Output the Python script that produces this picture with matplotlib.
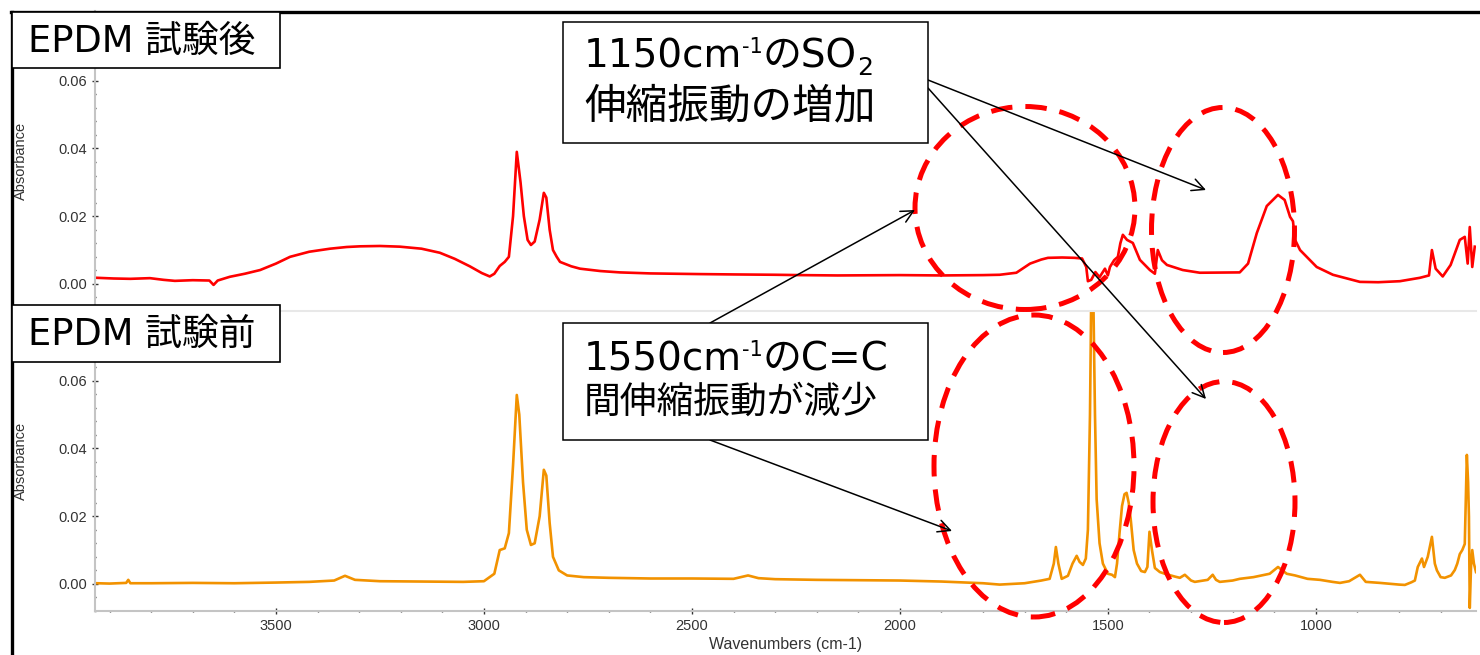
import matplotlib
matplotlib.use("Agg")
import matplotlib.pyplot as plt
from matplotlib.patches import Ellipse, Rectangle, FancyArrowPatch
from matplotlib.lines import Line2D
from matplotlib.ticker import MultipleLocator, FormatStrFormatter

# spectrum after test (red), wavenumber / absorbance
wn_after = [3930, 3890, 3850, 3803, 3770, 3743, 3700, 3660, 3650, 3640, 3611, 3575,
            3538, 3500, 3466, 3420, 3370, 3330, 3298, 3250, 3202, 3150, 3106, 3070,
            3034, 3005, 2986, 2975, 2962, 2950, 2940, 2930, 2921, 2912, 2904, 2895,
            2887, 2878, 2866, 2856, 2850, 2842, 2834, 2825, 2817, 2790, 2769, 2720,
            2673, 2600, 2481, 2400, 2300, 2240, 2150, 2000, 1900, 1800, 1760, 1720,
            1687, 1660, 1644, 1610, 1580, 1562, 1552, 1548, 1540, 1530, 1520, 1507,
            1500, 1495, 1485, 1476, 1470, 1464, 1454, 1440, 1423, 1399, 1387, 1380,
            1370, 1358, 1320, 1279, 1183, 1163, 1142, 1118, 1091, 1075, 1062, 1055,
            1050, 1038, 998, 959, 894, 850, 798, 750, 728, 721, 712, 695, 676, 654,
            642, 635, 630, 624, 618]
abs_after = [0.0018, 0.0016, 0.0015, 0.0017, 0.0012, 0.0009, 0.0011, 0.0010, -0.0003, 0.0010, 0.0021, 0.0030,
             0.0041, 0.0060, 0.0080, 0.0095, 0.0104, 0.0109, 0.0111, 0.0112, 0.0110, 0.0104, 0.0092, 0.0074,
             0.0052, 0.0032, 0.0022, 0.0030, 0.0053, 0.0065, 0.0080, 0.0200, 0.0390, 0.0300, 0.0200, 0.0130,
             0.0115, 0.0125, 0.0190, 0.0269, 0.0255, 0.0160, 0.0100, 0.0080, 0.0065, 0.0052, 0.0045, 0.0038,
             0.0034, 0.0031, 0.0029, 0.0028, 0.0027, 0.0026, 0.0025, 0.0026, 0.0025, 0.0026, 0.0027, 0.0033,
             0.0060, 0.0072, 0.0077, 0.0078, 0.0077, 0.0075, 0.0050, 0.0008, 0.0012, 0.0035, 0.0020, 0.0045,
             0.0025, 0.0050, 0.0070, 0.0080, 0.0120, 0.0145, 0.0130, 0.0121, 0.0071, 0.0041, 0.0030, 0.0100,
             0.0070, 0.0056, 0.0041, 0.0033, 0.0034, 0.0060, 0.0150, 0.0230, 0.0263, 0.0248, 0.0198, 0.0185,
             0.0130, 0.0100, 0.0050, 0.0027, 0.0006, 0.0005, 0.0008, 0.0018, 0.0025, 0.0100, 0.0045, 0.0022, 0.0056, 0.0130,
             0.0139, 0.0060, 0.0168, 0.0050, 0.0110]

# spectrum before test (orange)
wn_before = [3930, 3900, 3860, 3855, 3850, 3800, 3700, 3600, 3500, 3420, 3360, 3334,
             3310, 3250, 3150, 3050, 3000, 2975, 2962, 2950, 2940, 2930, 2921, 2915,
             2906, 2897, 2887, 2878, 2866, 2856, 2850, 2842, 2834, 2820, 2800, 2760,
             2700, 2600, 2500, 2400, 2365, 2340, 2300, 2200, 2100, 2000, 1900, 1800,
             1760, 1700, 1660, 1640, 1630, 1625, 1619, 1611, 1596, 1585, 1575, 1568,
             1560, 1553, 1548, 1543, 1540, 1535, 1531, 1527, 1520, 1512, 1500, 1490,
             1483, 1478, 1472, 1466, 1460, 1455, 1450, 1445, 1438, 1430, 1420, 1411,
             1405, 1400, 1394, 1387, 1375, 1363, 1340, 1327, 1315, 1300, 1291, 1260,
             1248, 1240, 1231, 1200, 1183, 1150, 1111, 1091, 1070, 1050, 1020, 990,
             960, 942, 920, 894, 880, 846, 800, 786, 770, 762, 755, 745, 740, 731,
             721, 714, 709, 700, 690, 675, 666, 660, 654, 648, 642, 637, 634, 632,
             630, 627, 624, 620, 615]
abs_before = [0.0002, 0.0001, 0.0003, 0.0012, 0.0002, 0.0002, 0.0003, 0.0002, 0.0004, 0.0006, 0.0010, 0.0024,
              0.0012, 0.0008, 0.0007, 0.0006, 0.0008, 0.0030, 0.0100, 0.0105, 0.0150, 0.0350, 0.0558, 0.0500,
              0.0300, 0.0160, 0.0115, 0.0120, 0.0200, 0.0337, 0.0320, 0.0180, 0.0080, 0.0040, 0.0025, 0.0020,
              0.0018, 0.0016, 0.0016, 0.0015, 0.0025, 0.0017, 0.0014, 0.0012, 0.0011, 0.0010, 0.0007, 0.0002,
              -0.0002, 0.0002, 0.0010, 0.0015, 0.0060, 0.0109, 0.0060, 0.0015, 0.0024, 0.0060, 0.0083, 0.0065,
              0.0056, 0.0075, 0.0160, 0.0500, 0.0850, 0.0850, 0.0500, 0.0250, 0.0120, 0.0060, 0.0030, 0.0027,
              0.0020, 0.0060, 0.0150, 0.0230, 0.0265, 0.0269, 0.0240, 0.0190, 0.0100, 0.0060, 0.0038, 0.0035,
              0.0050, 0.0154, 0.0100, 0.0047, 0.0035, 0.0030, 0.0022, 0.0018, 0.0027, 0.0010, 0.0006, 0.0012,
              0.0027, 0.0012, 0.0006, 0.0010, 0.0015, 0.0020, 0.0030, 0.0050, 0.0030, 0.0025, 0.0015, 0.0012,
              0.0006, 0.0003, 0.0008, 0.0027, 0.0006, 0.0003, -0.0002, -0.0003, 0.0005, 0.0010, 0.0050, 0.0075, 0.0050, 0.0080,
              0.0139, 0.0060, 0.0040, 0.0020, 0.0018, 0.0025, 0.0041, 0.0060, 0.0088, 0.0100, 0.0118, 0.0381, 0.0300, 0.0200,
              -0.0071, 0.0050, 0.0100, 0.0060, 0.0035]

panel_labels = ["EPDM 試験後", "EPDM 試験前"]
x_ticks = [3500, 3000, 2500, 2000, 1500, 1000]
y_ticks = [0.00, 0.02, 0.04, 0.06]

W, H = 1480, 655
jp = ["DejaVu Sans", "Noto Sans CJK JP"]

fig = plt.figure(figsize=(W / 100, H / 100), dpi=100)
ax_top = fig.add_axes([95 / W, 1 - 311 / H, 1381 / W, 300 / H])
ax_bot = fig.add_axes([95 / W, 1 - 611 / H, 1381 / W, 300 / H])

ax_top.plot(wn_after, abs_after, color="#ff0000", lw=1.9)
ax_bot.plot(wn_before, abs_before, color="#f29200", lw=1.9)

for ax in (ax_top, ax_bot):
    ax.set_xlim(3935, 615)
    ax.set_ylim(-0.008, 0.0806)
    ax.set_xticks(x_ticks)
    ax.xaxis.set_minor_locator(MultipleLocator(100))
    ax.set_yticks(y_ticks)
    ax.yaxis.set_minor_locator(MultipleLocator(0.004))
    ax.yaxis.set_major_formatter(FormatStrFormatter("%.2f"))
    ax.spines["right"].set_visible(False)
    ax.spines["left"].set_color("#c4c4c4")
    ax.spines["left"].set_linewidth(1.5)
    ax.spines["bottom"].set_color("#c4c4c4")
    ax.spines["bottom"].set_linewidth(1.5)
    ax.spines["top"].set_color("#e8e8e8")
    ax.spines["top"].set_linewidth(1.5)
    ax.tick_params(which="major", direction="inout", length=4, width=1, color="#333333",
                   labelsize=10.5, labelcolor="#333333", pad=4)
    ax.tick_params(which="minor", direction="inout", length=2, width=1, color="#333333")
    for lab in ax.get_xticklabels() + ax.get_yticklabels():
        lab.set_family("Liberation Sans")
    ax.set_ylabel("Absorbance", fontsize=10.5, color="#333333", family="Liberation Sans")
    ax.yaxis.set_label_coords(-0.0485, 0.5)
    ax.set_facecolor("none")

ax_top.spines["bottom"].set_visible(False)
ax_top.spines["top"].set_visible(False)
ax_top.tick_params(axis="x", which="both", bottom=False, labelbottom=False)
ax_bot.set_zorder(-1)
ax_top.set_zorder(-2)
ax_bot.set_xlabel("Wavenumbers (cm-1)", fontsize=11.5, color="#333333", family="Liberation Sans", labelpad=3)


def fx(px):
    return px / W


def fy(py):
    return 1 - py / H


# outer frame
fig.add_artist(Line2D([fx(12), fx(12)], [fy(12), 0], color="black", lw=2.4, zorder=5))
fig.add_artist(Line2D([fx(11), 1], [fy(12), fy(12)], color="black", lw=2.4, zorder=5))

# panel label boxes
for label, (top, bot) in zip(panel_labels, [(12, 68), (305, 362)]):
    fig.add_artist(Rectangle((fx(12), fy(bot)), fx(280) - fx(12), fy(top) - fy(bot),
                             transform=fig.transFigure, facecolor="white", edgecolor="black",
                             lw=1.2, zorder=6))
    fig.text(fx(28), fy((top + bot) / 2 + 1), label, fontsize=26.5,
             family=["DejaVu Sans", "Noto Sans CJK JP"], va="center", ha="left", zorder=7)

# red dashed ellipses (centre x, centre y, width, height in pixels)
ell_cx = [1025, 1223, 1034, 1224]
ell_cy = [208, 230, 466, 502]
ell_w = [220, 143, 200, 142]
ell_h = [203, 245, 302, 241]
for cx, cy, w, h in zip(ell_cx, ell_cy, ell_w, ell_h):
    fig.add_artist(Ellipse((fx(cx), fy(cy)), w / W, h / H, transform=fig.transFigure,
                           fill=False, edgecolor="#ff0000", lw=3.6,
                           linestyle=(0, (4.3, 2.6)), zorder=4))

# arrows
arrows = [((928, 80), (1206, 190)), ((928, 88), (1206, 399)),
          ((710, 323), (915, 210)), ((710, 440), (952, 531))]
for (x0, y0), (x1, y1) in arrows:
    fig.add_artist(FancyArrowPatch((fx(x0), fy(y0)), (fx(x1), fy(y1)), transform=fig.transFigure,
                                   arrowstyle="->", mutation_scale=22, lw=1.1, color="black",
                                   shrinkA=0, shrinkB=0, zorder=5))

# annotation boxes
for top, bot in [(22, 143), (323, 440)]:
    fig.add_artist(Rectangle((fx(563), fy(bot)), fx(928) - fx(563), fy(top) - fy(bot),
                             transform=fig.transFigure, facecolor="white", edgecolor="black",
                             lw=1.1, zorder=6))

fig.canvas.draw()
renderer = fig.canvas.get_renderer()


def put_line(pieces, x_px, base_px):
    x = x_px
    for s, size, dy in pieces:
        t = fig.text(fx(x), fy(base_px - dy), s, fontsize=size, family=jp,
                     va="baseline", ha="left", zorder=7)
        x = t.get_window_extent(renderer).x1


put_line([("1150cm", 28, 0), ("-1", 15, 14), ("のSO", 28, 0), ("2", 18, -8)], 584, 67)
put_line([("伸縮振動の増加", 30, 0)], 584, 118)
put_line([("1550cm", 28, 0), ("-1", 15, 14), ("のC=C", 28, 0)], 584, 370)
put_line([("間伸縮振動が減少", 26.5, 0)], 584, 413)

fig.savefig("out.png", dpi=100)
